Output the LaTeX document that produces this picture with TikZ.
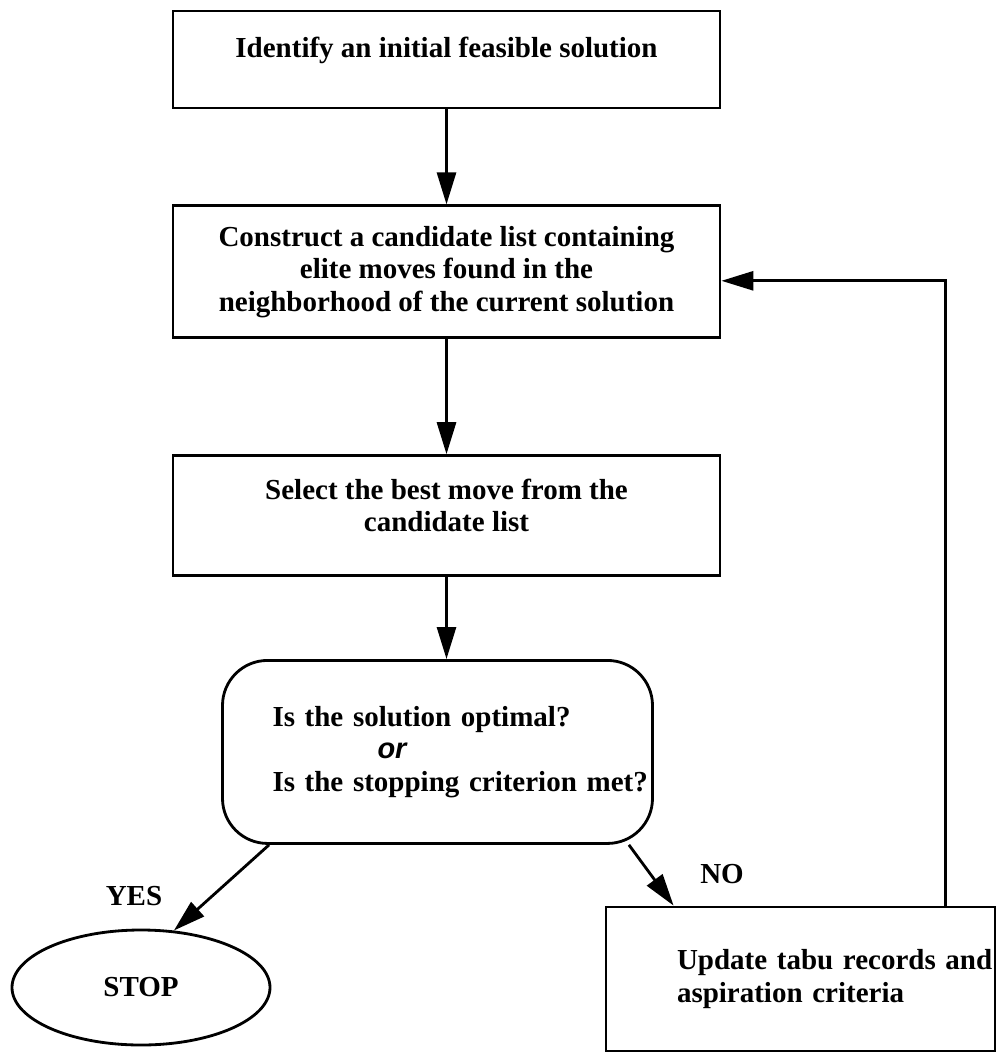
\documentclass[tikz,border=0pt]{standalone}
\usepackage{fontspec}
\setmainfont{Liberation Serif}
\newfontfamily\orfont{Liberation Sans}
\usetikzlibrary{shapes.geometric, arrows.meta, positioning}
\tikzstyle{process} = [rectangle, 
minimum width=10.94cm, 
text centered, 
line width=1.6pt,
draw=black]
\tikzstyle{decision} = [rectangle, rounded corners=0.9cm, 
minimum height=3.66cm, 
text width=6.6cm, 
inner xsep=1.0cm, 
align=left, 
line width=1.6pt,
draw=black]
\tikzstyle{startstop} = [ellipse, 
minimum width=5.16cm, 
minimum height=2.3cm, 
line width=1.6pt,
draw=black]
\tikzstyle{arrow} = [line width=1.6pt,-{Triangle[length=0.64cm, width=0.38cm]},draw=black]

\begin{document}
\begin{tikzpicture}[every node/.style={font=\fontsize{16.5}{18.5}\selectfont\bfseries}, align=center]
    \useasboundingbox (0,0) rectangle (19.94,-21.04);

        % Nodos
        \node (init) [process, minimum height=1.94cm] at (8.93,-1.19) {Identify an initial feasible solution\\[-4.3pt]\mbox{}};
        \node (cand) [process, minimum height=2.64cm, below=1.9cm of init] {Construct a candidate list containing\\elite moves found in the\\neighborhood of the current solution};
        \node (select) [process, minimum height=2.4cm, below=2.3cm of cand] {Select the best move from the\\candidate list\\[-7pt]\mbox{}};
        \node (check) [decision, below=1.64cm of select, xshift=-0.18cm] {\mbox{Is the solution optimal?}\\\hspace*{2.1cm}{\orfont\itshape or}\\\mbox{Is the stopping criterion met?}};
        \node (stop) [startstop] at (2.82,-19.75) {STOP};
        \node (update) [process, minimum width=7.78cm, minimum height=2.88cm, text width=4.94cm, inner xsep=1.42cm, align=left] at (16.01,-19.58) {\mbox{Update tabu records and}\\aspiration criteria};
        \node (yes) at (2.68,-17.92) {YES};
        \node (no) at (14.44,-17.48) {NO};

        % Conexiones
        \draw [arrow] (init) -- (cand);
        \draw [arrow] (cand) -- (select);
        \draw [arrow] (select.south) -- (select.south |- check.north);
        \draw [arrow] ([xshift=0.96cm]check.south west) -- (stop.60);
        \draw [arrow] ([xshift=-0.5cm]check.south east) -- ([xshift=1.38cm]update.north west);
        \draw [arrow] ([xshift=-1.02cm]update.north east) |- ([yshift=-0.18cm]cand.east);

    \end{tikzpicture}
\end{document}
